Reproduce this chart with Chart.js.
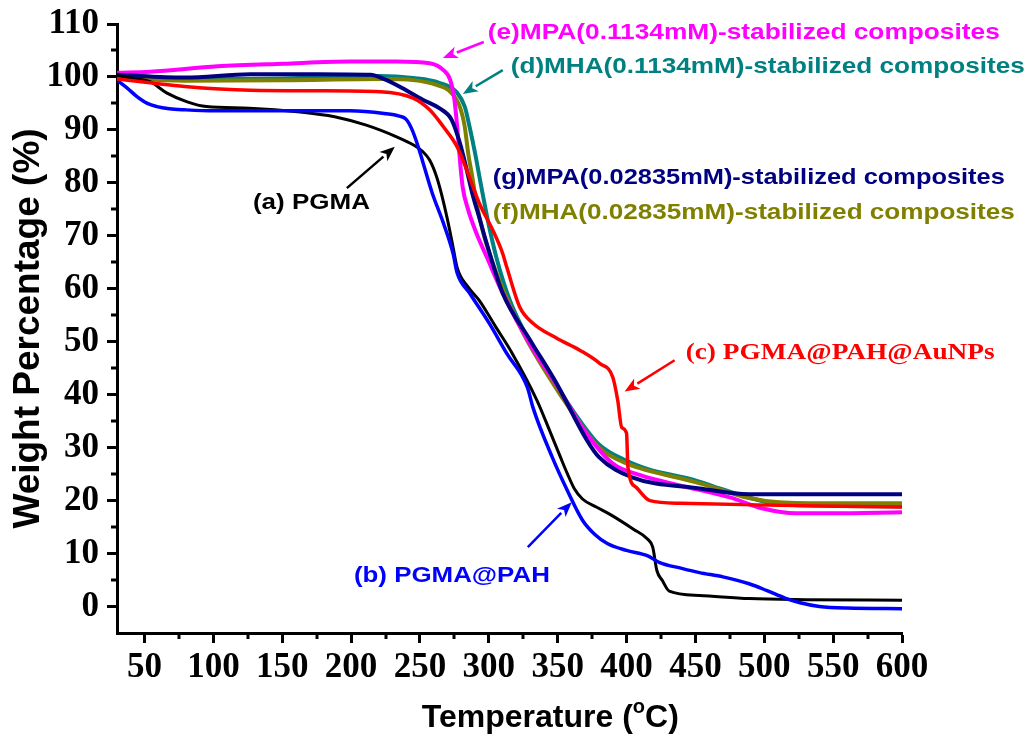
<!DOCTYPE html>
<html><head><meta charset="utf-8">
<script src="https://cdn.jsdelivr.net/npm/chart.js@4.4.1/dist/chart.umd.min.js"></script>
<style>html,body{margin:0;padding:0;background:#fff}</style>
</head><body>
<canvas id="c" width="1029" height="736" style="width:1029px;height:736px;display:block"></canvas>
<script>
// ---------- data (temperature °C, weight %) ----------
const pgmaT = [30, 40, 54, 66, 81, 95, 126, 163, 188, 211, 233, 245, 252, 257, 262, 266, 270, 274, 277, 285, 293, 305, 317, 335, 344, 352, 357, 362, 368, 378, 388, 405, 415, 419, 422, 426, 431, 453, 489, 530, 600];
const pgmaW = [100.3, 99.8, 99.1, 97, 95.3, 94.4, 94.1, 93.4, 92.5, 90.9, 88.7, 87.2, 85.9, 84.3, 81.2, 77.5, 73, 67.9, 64, 60.3, 57.8, 52.8, 47.8, 38.9, 33.3, 28.2, 25.1, 22.3, 20.3, 18.8, 17.4, 14.6, 12.8, 11.2, 6.8, 4.9, 2.9, 2.1, 1.5, 1.3, 1.2];

const pahT = [30, 37, 44.5, 52, 59, 68, 79, 100, 151, 199, 224, 235, 240, 244, 248, 252, 259, 267, 274, 277, 286, 300, 313, 328, 332, 346, 357, 368, 377, 386, 400, 415, 424, 440, 453, 470, 489, 502, 515, 526, 540, 560, 600];
const pahW = [99.4, 98, 96.3, 95, 94.4, 94, 93.8, 93.6, 93.6, 93.6, 93.1, 92.6, 92, 90.2, 87.4, 84, 78, 72.4, 66.7, 63, 59.2, 53.6, 47.8, 41.4, 37.6, 28.2, 21.9, 16.3, 13.6, 11.9, 10.6, 9.6, 8.3, 7.2, 6.4, 5.6, 4.3, 3.0, 1.6, 0.7, 0, -0.3, -0.4];

const aunpT = [30, 54, 79, 127, 175, 221, 245, 257, 267, 277, 284, 293, 303, 310, 313, 322.5, 332, 349, 366, 380.5, 390, 393.6, 396.5, 400, 401, 407, 417, 439, 511, 600];
const aunpW = [99.6, 98.9, 98.2, 97.5, 97.4, 97.2, 96, 93.8, 90.6, 86.8, 82.4, 76.2, 71, 66.7, 64.1, 56.5, 53.5, 50.7, 48.4, 45.9, 43.3, 38.9, 33.8, 32.7, 26.3, 22.5, 20, 19.5, 19.1, 18.8];

const mha1T = [30, 79, 151, 221, 245, 264, 277, 282.5, 286, 290, 294, 300, 306, 315, 325, 342, 361, 380, 400, 415, 450, 463, 487, 511, 550, 600];
const mha1W = [100, 99.6, 99.7, 100.2, 99.8, 98.9, 97, 94.4, 90.6, 85.6, 80, 72, 65.4, 58, 52.3, 44.8, 37, 30.6, 27.5, 26, 23.8, 22.7, 20.7, 19.3, 19, 18.9];

const mpa1T = [30, 54, 103, 151, 199, 233, 257, 267, 272, 275, 277, 279, 281, 285, 291, 298.5, 310, 330, 350, 370, 390, 410, 438, 475, 499, 523, 550, 600];
const mpa1W = [100.8, 101, 102, 102.5, 102.9, 102.9, 102.6, 101.3, 99.4, 95.7, 90.6, 84.3, 79.2, 74.9, 70.5, 66, 59.2, 49.5, 41.5, 33, 27, 24.8, 22.9, 20.6, 18.5, 17.6, 17.6, 17.8];

const mha2T = [30, 79, 151, 224, 245, 262, 272, 279, 282.5, 285, 288, 291, 296, 302, 310, 325, 342, 361, 380, 400, 415, 450, 463, 487, 511, 550, 600];
const mha2W = [99.8, 99.3, 99.4, 99.6, 99.4, 98.5, 97.2, 94.3, 90.6, 85.6, 81.1, 76.2, 70.5, 65.5, 60, 51.6, 44, 36.5, 30, 27, 25.7, 23.5, 22.5, 20.6, 19.7, 19.5, 19.5];

const mpa2T = [30, 79, 127, 175, 214, 224, 235, 252, 264, 273, 279, 284, 288, 293, 298.5, 310, 330, 349, 371, 380, 404, 453, 489, 600];
const mpa2W = [100.4, 99.9, 100.5, 100.5, 100.4, 99.6, 98.2, 95.7, 94.1, 91.9, 87.5, 82.4, 78, 73.5, 68.5, 59.2, 50.3, 42.2, 31.5, 28.2, 24.4, 22.3, 21.2, 21.2];

const xTickValues = [50, 100, 150, 200, 250, 300, 350, 400, 450, 500, 550, 600];
const yTickValues = [0, 10, 20, 30, 40, 50, 60, 70, 80, 90, 100, 110];

const labelTexts = ['(a) PGMA', '(b) PGMA@PAH', '(c) PGMA@PAH@AuNPs',
  '(d)MHA(0.1134mM)-stabilized composites', '(e)MPA(0.1134mM)-stabilized composites',
  '(f)MHA(0.02835mM)-stabilized composites', '(g)MPA(0.02835mM)-stabilized composites'];
const xTitle = ['Temperature (', 'o', 'C)'];
const yTitle = 'Weight Percentage (%)';

// ---------- build ----------
const pts = (T, W) => T.map((t, i) => ({x: t, y: W[i]}));
const ds = (T, W, color, width) => ({data: pts(T, W), borderColor: color, backgroundColor: color, borderWidth: width,
  pointRadius: 0, fill: false, cubicInterpolationMode: 'monotone'});

const datasets = [
  ds(aunpT, aunpW, '#FF0000', 3.5),
  ds(pahT, pahW, '#0000FF', 3.5),
  ds(pgmaT, pgmaW, '#000000', 3),
  ds(mpa2T, mpa2W, '#000080', 4),
  ds(mpa1T, mpa1W, '#FF00FF', 4),
  ds(mha2T, mha2W, '#808000', 4),
  ds(mha1T, mha1W, '#008080', 4)
];

const SANS = '"Liberation Sans", Arial, sans-serif';
const SERIF = '"Liberation Serif", "Times New Roman", serif';

const notes = [
  {i: 0, color: '#000000', font: 'bold 22px ' + SANS, x: 128.7, y: 76.2, w: 117, arrow: [196.9, 79, 231.7, 86.8]},
  {i: 1, color: '#0000FF', font: 'bold 22px ' + SANS, x: 202, y: 5.7, w: 196, arrow: [328.3, 11.2, 360.2, 19.7]},
  {i: 2, color: '#FF0000', font: 'bold 24px ' + SERIF, x: 442.9, y: 48, w: 309, arrow: [434.9, 46.5, 398.6, 40.6]},
  {i: 3, color: '#008080', font: 'bold 22px ' + SANS, x: 315.9, y: 101.9, w: 514, arrow: [310.1, 101.3, 281.1, 96.8]},
  {i: 4, color: '#FF00FF', font: 'bold 22px ' + SANS, x: 299.2, y: 108.3, w: 512, arrow: [296.3, 106.6, 266.6, 103.6]},
  {i: 5, color: '#808000', font: 'bold 22px ' + SANS, x: 302.9, y: 74.3, w: 522},
  {i: 6, color: '#000080', font: 'bold 22px ' + SANS, x: 302.9, y: 80.9, w: 512}
];

const annotate = {
  id: 'annotate',
  afterDraw(chart) {
    const {ctx, scales: {x, y}, chartArea} = chart;
    notes.forEach(n => {
      ctx.save();
      ctx.fillStyle = n.color;
      ctx.strokeStyle = n.color;
      if (n.arrow) {
        const [t1, v1, t2, v2] = n.arrow;
        const x1 = x.getPixelForValue(t1), y1 = y.getPixelForValue(v1);
        const x2 = x.getPixelForValue(t2), y2 = y.getPixelForValue(v2);
        const a = Math.atan2(y2 - y1, x2 - x1);
        const hl = 15, hw = 6;
        const bx = x2 - hl * Math.cos(a), by = y2 - hl * Math.sin(a);
        ctx.lineWidth = 2.5;
        ctx.beginPath(); ctx.moveTo(x1, y1); ctx.lineTo(bx, by); ctx.stroke();
        ctx.beginPath();
        ctx.moveTo(x2, y2);
        ctx.lineTo(bx + hw * Math.sin(a), by - hw * Math.cos(a));
        ctx.lineTo(x2 - (hl - 4) * Math.cos(a), y2 - (hl - 4) * Math.sin(a));
        ctx.lineTo(bx - hw * Math.sin(a), by + hw * Math.cos(a));
        ctx.closePath(); ctx.fill();
      }
      ctx.font = n.font;
      ctx.textBaseline = 'middle';
      ctx.textAlign = 'left';
      const txt = labelTexts[n.i];
      const m = ctx.measureText(txt).width;
      ctx.translate(x.getPixelForValue(n.x), y.getPixelForValue(n.y));
      ctx.scale(n.w / m, 1);
      ctx.fillText(txt, 0, 0);
      ctx.restore();
    });
    // minor ticks between major ticks
    ctx.save();
    ctx.strokeStyle = '#000'; ctx.lineWidth = 3;
    for (let k = 0; k < yTickValues.length - 1; k++) {
      const v = (yTickValues[k] + yTickValues[k + 1]) / 2;
      const py = Math.round(y.getPixelForValue(v));
      ctx.beginPath(); ctx.moveTo(chartArea.left - 6, py); ctx.lineTo(chartArea.left, py); ctx.stroke();
    }
    for (let k = 0; k < xTickValues.length - 1; k++) {
      const v = (xTickValues[k] + xTickValues[k + 1]) / 2;
      const px = Math.round(x.getPixelForValue(v));
      ctx.beginPath(); ctx.moveTo(px, chartArea.bottom); ctx.lineTo(px, chartArea.bottom + 6); ctx.stroke();
    }
    // x axis title with superscript degree "o"
    ctx.fillStyle = '#000';
    ctx.textBaseline = 'alphabetic';
    ctx.textAlign = 'left';
    const big = 'bold 32px ' + SANS, small = 'bold 20px ' + SANS;
    ctx.font = big; const w1 = ctx.measureText(xTitle[0]).width, w3 = ctx.measureText(xTitle[2]).width;
    ctx.font = small; const w2 = ctx.measureText(xTitle[1]).width;
    const total = w1 + w2 + w3;
    const cx = chartArea.left + (chartArea.right - chartArea.left) * 0.552;
    let sx = cx - total / 2;
    const base = chartArea.bottom + 94;
    ctx.font = big; ctx.fillText(xTitle[0], sx, base); sx += w1;
    ctx.font = small; ctx.fillText(xTitle[1], sx, base - 14); sx += w2;
    ctx.font = big; ctx.fillText(xTitle[2], sx, base);
    ctx.restore();
  }
};

new Chart(document.getElementById('c'), {
  type: 'line',
  data: {datasets},
  options: {
    responsive: false,
    animation: false,
    devicePixelRatio: 1,
    layout: {padding: {top: 24, right: 127, left: 0, bottom: 0}},
    plugins: {legend: {display: false}, tooltip: {enabled: false}},
    scales: {
      x: {
        type: 'linear', min: 30, max: 600,
        afterBuildTicks: s => { s.ticks = xTickValues.map(v => ({value: v})); },
        afterFit: s => { s.height = 103; s.paddingLeft = 0; s.paddingRight = 0; },
        grid: {display: true, drawOnChartArea: false, drawTicks: true, tickLength: 10, tickWidth: 3, tickColor: '#000'},
        border: {display: true, width: 3, color: '#000'},
        ticks: {color: '#000', font: {family: SERIF, weight: 'bold', size: 35}, padding: 4, maxRotation: 0, autoSkip: false},
        title: {display: false}
      },
      y: {
        type: 'linear', min: -5, max: 110,
        afterBuildTicks: s => { s.ticks = yTickValues.map(v => ({value: v})); },
        afterFit: s => { s.width = 117; s.paddingTop = 0; s.paddingBottom = 0; },
        grid: {display: true, drawOnChartArea: false, drawTicks: true, tickLength: 10, tickWidth: 3, tickColor: '#000'},
        border: {display: true, width: 3, color: '#000'},
        ticks: {color: '#000', font: {family: SERIF, weight: 'bold', size: 35}, padding: 8, autoSkip: false},
        title: {display: true, text: yTitle, color: '#000', font: {family: SANS, weight: 'bold', size: 37}, padding: {top: 7, bottom: 0}}
      }
    }
  },
  plugins: [annotate]
});
</script>
</body></html>
